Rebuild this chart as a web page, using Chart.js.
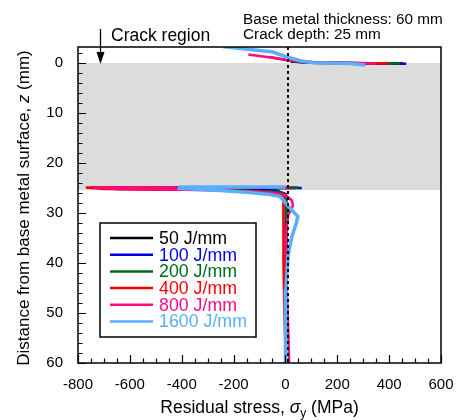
<!DOCTYPE html>
<html>
<head>
<meta charset="utf-8">
<script src="https://cdn.jsdelivr.net/npm/chart.js@4.4.1/dist/chart.umd.min.js"></script>
<style>
  html, body { margin: 0; padding: 0; background: #fff; }
  #wrap { width: 459px; height: 420px; }
</style>
</head>
<body>
<div id="wrap"><canvas id="stress" width="459" height="420"></canvas></div>
<script>
var FONT = '"Liberation Sans", Arial, Helvetica, sans-serif';

var seriesLabels = ['50 J/mm', '100 J/mm', '200 J/mm', '400 J/mm', '800 J/mm', '1600 J/mm'];
var seriesColors = ['#000000', '#0000e6', '#006b1f', '#ff0000', '#ff0a80', '#5aaeff'];
var seriesWidths = [2.5, 2.5, 2.5, 2.5, 2.5, 3.5];

// stress in MPa, depth z in mm; null splits the surface part from the crack-tip part
var stress50 = [20, 100, 300, 455, null, 40, -700, -650, -200, -30, 0, 3, 3, 2, 1];
var depth50  = [-0.3, -0.05, 0.05, 0.1, null, 25.0, 24.9, 25.1, 25.3, 25.6, 26.2, 28, 35, 45, 60];

var stress100 = [30, 100, 300, 466, null, 63, -720, -650, -200, -30, 1, 2, 1, 0];
var depth100  = [-0.3, -0.05, 0.05, 0.15, null, 25.0, 24.9, 25.1, 25.3, 25.6, 26.3, 30, 45, 60];

var stress200 = [30, 100, 443, null, 50, -750, -650, -200, -20, 3, 4, 2, 1];
var depth200  = [-0.35, -0.05, 0.12, null, 24.9, 24.9, 25.2, 25.4, 25.8, 26.5, 30, 45, 60];

var stress400 = [-60, 0, 100, 400, null, 20, -770, -700, -300, -80, -8, -8, -7, -4, 2];
var depth400  = [-1.2, -0.6, -0.1, 0.1, null, 24.9, 24.9, 25.2, 25.4, 25.8, 26.5, 30, 40, 50, 60];

var stress800 = [-143, 0, 106, 346, null, 10, -740, -650, -300, -60, 0, 25, 29, 10, 2, 5, 12, 14];
var depth800  = [-1.7, -0.7, -0.2, 0.1, null, 24.9, 24.9, 25.2, 25.4, 25.9, 26.4, 27.5, 28.5, 30.5, 35, 45, 55, 60];

var stress1600 = [-242, -48, 0, 60, 106, 250, 308, null, 0, -405, -408, -253, -137, -60, -21, -10, 0, 17, 48, 42, 25, 10, 2, 0];
var depth1600  = [-3.3, -2.2, -1.3, -0.4, -0.05, 0.1, 0.4, null, 24.8, 24.8, 25.1, 25.5, 25.9, 26.3, 26.7, 27.3, 28, 29, 30.7, 32, 34.7, 38.7, 45.3, 60];

var stressSets = [stress50, stress100, stress200, stress400, stress800, stress1600];
var depthSets = [depth50, depth100, depth200, depth400, depth800, depth1600];

var xTicks = [-800, -600, -400, -200, 0, 200, 400, 600];
var yTicks = [0, 10, 20, 30, 40, 50, 60];
var crackZone = [0, 25.4];
var midLineStress = 10;

function toPoints(xs, zs) {
  return xs.map(function (s, i) {
    return s === null ? { x: null, y: null } : { x: s, y: zs[i] };
  });
}

var datasets = seriesLabels.map(function (lbl, i) {
  return {
    label: lbl,
    data: toPoints(stressSets[i], depthSets[i]),
    borderColor: seriesColors[i],
    backgroundColor: seriesColors[i],
    borderWidth: seriesWidths[i],
    showLine: true,
    pointRadius: 0,
    spanGaps: false,
    order: 6 - i
  };
});
datasets.push({
  label: 'zero',
  data: [{ x: midLineStress, y: -3.2 }, { x: midLineStress, y: 60 }],
  borderColor: '#000',
  borderWidth: 2,
  borderDash: [3, 3],
  showLine: true,
  pointRadius: 0,
  order: 0
});

function drawRich(ctx, parts, x, y) {
  var total = 0;
  parts.forEach(function (p) { ctx.font = p.f; total += ctx.measureText(p.t).width; });
  var cx = x - total / 2;
  parts.forEach(function (p) {
    ctx.font = p.f;
    ctx.fillText(p.t, cx, y + (p.dy || 0));
    cx += ctx.measureText(p.t).width;
  });
}

var decorPlugin = {
  id: 'decor',
  beforeDatasetsDraw: function (chart) {
    var ctx = chart.ctx, a = chart.chartArea, ys = chart.scales.y;
    var t = ys.getPixelForValue(crackZone[0]), b = ys.getPixelForValue(crackZone[1]);
    ctx.save();
    ctx.fillStyle = '#dcdcdc';
    ctx.fillRect(a.left, t, a.right - a.left, b - t);
    ctx.restore();
  },
  afterDatasetsDraw: function (chart) {
    var ctx = chart.ctx, a = chart.chartArea, xs = chart.scales.x, ys = chart.scales.y;
    ctx.save();
    ctx.strokeStyle = '#000';
    ctx.lineWidth = 1.5;
    ctx.strokeRect(a.left, a.top, a.right - a.left, a.bottom - a.top);
    ctx.lineWidth = 1.2;
    ctx.beginPath();
    // inward ticks: bottom every 50 MPa, left every 2 mm
    for (var v = -800; v <= 600; v += 50) {
      var px = Math.round(xs.getPixelForValue(v)) + 0.5;
      var len = v % 200 === 0 ? 8 : 4.5;
      ctx.moveTo(px, a.bottom);
      ctx.lineTo(px, a.bottom - len);
    }
    for (var z = -2; z <= 60; z += 2) {
      var py = Math.round(ys.getPixelForValue(z)) + 0.5;
      var l2 = z % 10 === 0 ? 8 : 4.5;
      ctx.moveTo(a.left, py);
      ctx.lineTo(a.left + l2, py);
    }
    ctx.stroke();
    ctx.restore();
  },
  afterDraw: function (chart) {
    var ctx = chart.ctx, a = chart.chartArea;
    ctx.save();
    ctx.fillStyle = '#000';
    ctx.textBaseline = 'alphabetic';

    // axis titles
    var f17 = '17.5px ' + FONT;
    drawRich(ctx, [
      { t: 'Residual stress, ', f: f17 },
      { t: 'σ', f: 'italic 17.5px ' + FONT },
      { t: 'y', f: '12px ' + FONT, dy: 4 },
      { t: ' (MPa)', f: f17 }
    ], (a.left + a.right) / 2, 413);

    ctx.save();
    ctx.translate(29, (a.top + a.bottom) / 2 + 3);
    ctx.rotate(-Math.PI / 2);
    drawRich(ctx, [
      { t: 'Distance from base metal surface, ', f: '17px ' + FONT },
      { t: 'z', f: 'italic 17px ' + FONT },
      { t: ' (mm)', f: '17px ' + FONT }
    ], 0, 0);
    ctx.restore();

    // notes
    ctx.font = '17.5px ' + FONT;
    ctx.fillText('Crack region', 111, 41);
    ctx.font = '15.3px ' + FONT;
    ctx.fillText('Base metal thickness: 60 mm', 243, 24);
    ctx.fillText('Crack depth: 25 mm', 243, 38.5);

    // arrow to the crack region
    ctx.strokeStyle = '#000';
    ctx.lineWidth = 1.3;
    ctx.beginPath();
    ctx.moveTo(100.5, 29);
    ctx.lineTo(100.5, 56);
    ctx.stroke();
    ctx.beginPath();
    ctx.moveTo(100.5, 64);
    ctx.lineTo(96.5, 52);
    ctx.lineTo(104.5, 52);
    ctx.closePath();
    ctx.fill();

    // legend
    var bx = 100, by = 223, bw = 156, bh = 114;
    ctx.fillStyle = '#fff';
    ctx.fillRect(bx, by, bw, bh);
    ctx.lineWidth = 1.5;
    ctx.strokeRect(bx, by, bw, bh);
    ctx.font = '17.8px ' + FONT;
    ctx.textBaseline = 'middle';
    seriesLabels.forEach(function (lbl, i) {
      var ry = 238 + i * 16.7;
      ctx.strokeStyle = seriesColors[i];
      ctx.lineWidth = 2.5;
      ctx.beginPath();
      ctx.moveTo(110, ry);
      ctx.lineTo(153, ry);
      ctx.stroke();
      ctx.fillStyle = seriesColors[i];
      ctx.fillText(lbl, 159, ry + 1);
    });
    ctx.restore();
  }
};

Chart.defaults.font.family = FONT;
Chart.defaults.color = '#000';

new Chart(document.getElementById('stress'), {
  type: 'scatter',
  data: { datasets: datasets },
  options: {
    responsive: false,
    animation: false,
    layout: { padding: { top: 47, right: 18, left: 0, bottom: 0 } },
    plugins: { legend: { display: false }, tooltip: { enabled: false } },
    scales: {
      x: {
        type: 'linear',
        min: -800,
        max: 600,
        grid: { display: false },
        border: { display: false },
        ticks: { font: { size: 15 }, padding: 5, maxRotation: 0 },
        afterBuildTicks: function (s) { s.ticks = xTicks.map(function (v) { return { value: v }; }); },
        afterFit: function (s) { s.height = 57; }
      },
      y: {
        type: 'linear',
        reverse: true,
        min: -3.2,
        max: 60,
        grid: { display: false },
        border: { display: false },
        ticks: { font: { size: 15 }, padding: 7 },
        afterBuildTicks: function (s) { s.ticks = yTicks.map(function (v) { return { value: v }; }); },
        afterFit: function (s) { s.width = 78; }
      }
    }
  },
  plugins: [decorPlugin]
});
</script>
</body>
</html>
